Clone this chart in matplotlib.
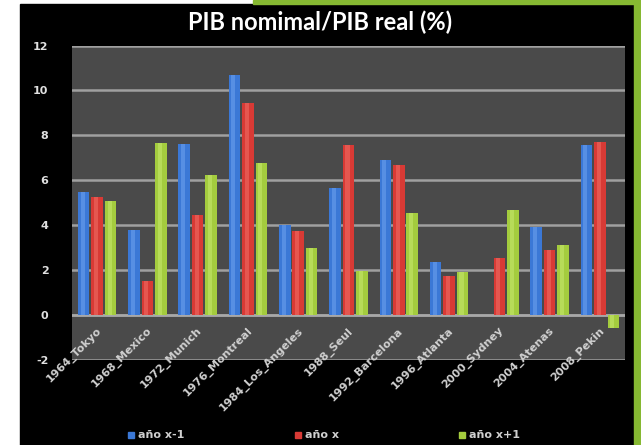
import numpy as np
import matplotlib
matplotlib.use("Agg")
import matplotlib.pyplot as plt
from matplotlib.patches import Rectangle

# datos
ciudades = ["1964_Tokyo", "1968_Mexico", "1972_Munich", "1976_Montreal",
            "1984_Los_Angeles", "1988_Seul", "1992_Barcelona", "1996_Atlanta",
            "2000_Sydney", "2004_Atenas", "2008_Pekin"]
anio_x_menos_1 = [5.5, 3.8, 7.6, 10.7, 4.0, 5.65, 6.9, 2.35, 0.0, 3.9, 7.55]
anio_x = [5.27, 1.5, 4.46, 9.45, 3.75, 7.58, 6.68, 1.75, 2.54, 2.9, 7.72]
anio_x_mas_1 = [5.1, 7.66, 6.25, 6.78, 3.0, 1.96, 4.54, 1.92, 4.68, 3.12, -0.58]
series_labels = ["año x-1", "año x", "año x+1"]
yticks = [-2, 0, 2, 4, 6, 8, 10, 12]

colores = ["#3b78d6", "#d83a35", "#a4cc3e"]
claros = ["#6fa2ee", "#f07068", "#c8e870"]

plt.rcParams["axes.unicode_minus"] = False

fig = plt.figure(figsize=(6.41, 4.45), dpi=100)
fig.patch.set_facecolor("white")

# marco negro y franjas verdes de la diapositiva
fig.patches.append(Rectangle((20 / 641, 0), 614 / 641, 1 - 4 / 445,
                             transform=fig.transFigure, color="black", zorder=-5))
fig.patches.append(Rectangle((634 / 641, 0), 7 / 641, 1,
                             transform=fig.transFigure, color="#86b832", zorder=-5))
fig.patches.append(Rectangle((253 / 641, 1 - 4 / 445), 388 / 641, 4 / 445,
                             transform=fig.transFigure, color="#86b832", zorder=-5))

ax = fig.add_axes([72 / 641, 1 - 360 / 445, 553 / 641, 314.5 / 445])
ax.set_zorder(2)
ax.set_facecolor("#4a4a4a")

x = np.arange(len(ciudades))
w = 0.23
step = 0.268
for k, vals in enumerate([anio_x_menos_1, anio_x, anio_x_mas_1]):
    pos = x + (k - 1) * step
    ax.bar(pos, vals, width=w, color=colores[k], zorder=3, label=series_labels[k])
    # brillo del cilindro
    ax.bar(pos - 0.02, vals, width=w * 0.35, color=claros[k], alpha=0.55,
           zorder=4, linewidth=0)

ax.set_xlim(-0.5, len(ciudades) - 0.5)
ax.set_ylim(-2, 12)
ax.set_yticks(yticks)
ax.grid(axis="y", color="#a0a0a0", linewidth=1.8, zorder=1)
ax.axhline(0, color="#a8a8a8", linewidth=1.8, zorder=2)
ax.set_xticks([])
ax.tick_params(axis="y", length=0, colors="#e0e0e0", labelsize=8, pad=17)
for lbl in ax.get_yticklabels():
    lbl.set_fontweight("bold")
for s in ax.spines.values():
    s.set_visible(False)

for i, c in enumerate(ciudades):
    ax.text(i - 0.02, -0.45, c, rotation=45, rotation_mode="anchor",
            ha="right", va="top", fontsize=8, color="#d0d0d0",
            fontweight="bold", zorder=5, clip_on=False)

fig.text(0.5, 1 - 22 / 445, "PIB nomimal/PIB real (%)", ha="center",
         va="center", color="white", fontsize=17, fontweight="bold",
         family="Lato")

# leyenda
ley_x = [128, 295, 459]
for k in range(3):
    fig.patches.append(Rectangle(((ley_x[k]) / 641, 1 - 438 / 445), 6 / 641, 6 / 445,
                                 transform=fig.transFigure, color=colores[k], zorder=3))
    fig.text((ley_x[k] + 10) / 641, 1 - 435 / 445, series_labels[k],
             ha="left", va="center", color="#d0d0d0", fontsize=8,
             fontweight="bold")

fig.savefig("out.png", dpi=100, facecolor=fig.get_facecolor())
